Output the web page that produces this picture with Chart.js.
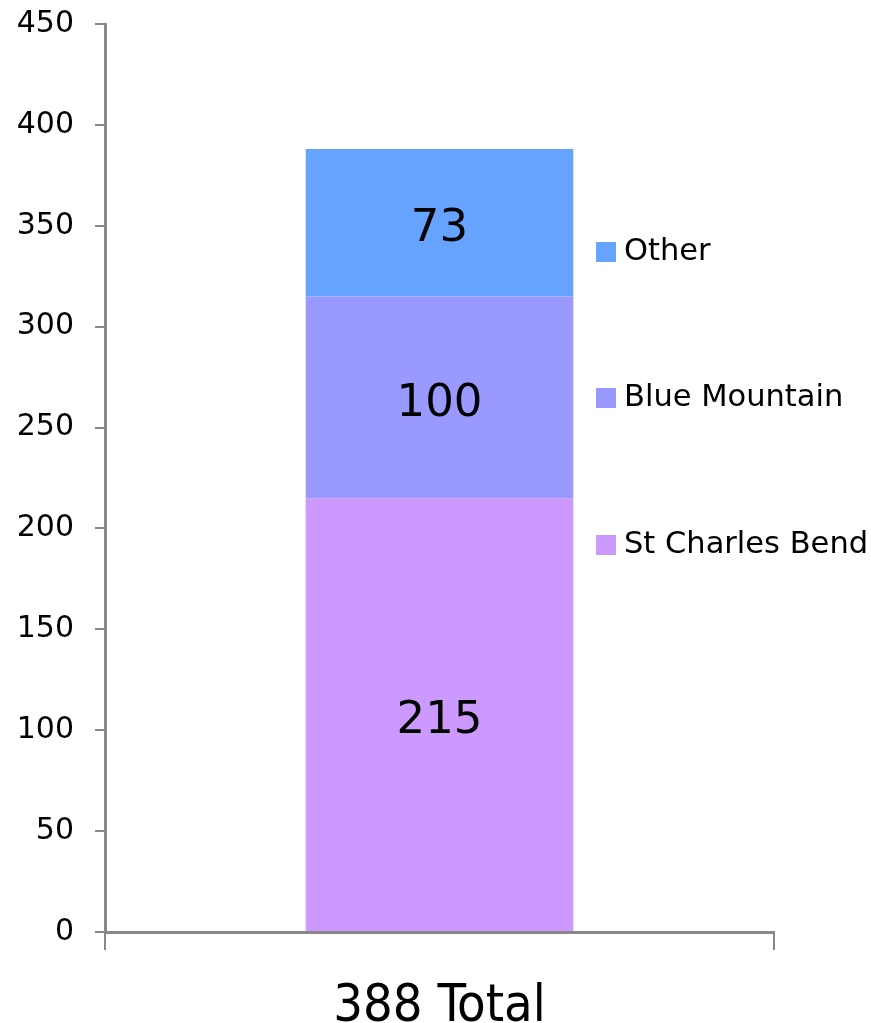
<!DOCTYPE html>
<html>
<head>
<meta charset="utf-8">
<script src="https://cdn.jsdelivr.net/npm/chart.js@4"></script>
<style>
  html, body { margin: 0; padding: 0; background: #fff; overflow: hidden; }
  #outer { width: 871px; height: 1023px; overflow: hidden; position: relative; }
  #wrap { width: 871px; height: 1038px; position: absolute; top: -15px; left: 0; }
</style>
</head>
<body>
<div id="outer"><div id="wrap"><canvas id="chart"></canvas></div></div>
<script>
// data
const categories = ['388 Total'];
const seriesNames = ['St Charles Bend', 'Blue Mountain', 'Other'];
const stCharlesBend = [215];
const blueMountain = [100];
const other = [73];
const colors = ['#cc99ff', '#9999ff', '#66a3ff'];
const yTicks = [0, 50, 100, 150, 200, 250, 300, 350, 400, 450];

const FONT = "'DejaVu Sans', Tahoma, sans-serif";

// value labels in the middle of each segment
const segmentLabels = {
  id: 'segmentLabels',
  afterDatasetsDraw(chart) {
    const ctx = chart.ctx;
    ctx.save();
    ctx.fillStyle = '#000';
    ctx.font = '45px ' + FONT;
    ctx.textAlign = 'center';
    ctx.textBaseline = 'middle';
    chart.data.datasets.forEach((ds, i) => {
      chart.getDatasetMeta(i).data.forEach((bar, j) => {
        const mid = (bar.y + bar.base) / 2;
        ctx.fillText(String(ds.data[j]), bar.x, mid + 7);
      });
    });
    ctx.restore();
  }
};

// legend on the right, top item = last series
const sideLegend = {
  id: 'sideLegend',
  afterDraw(chart) {
    const ctx = chart.ctx;
    const rows = [267, 413, 560];
    ctx.save();
    ctx.font = '30.5px ' + FONT;
    ctx.textBaseline = 'middle';
    ctx.textAlign = 'left';
    const order = chart.data.datasets.slice().reverse();
    order.forEach((ds, k) => {
      ctx.fillStyle = ds.backgroundColor;
      ctx.fillRect(596, rows[k] - 10, 20, 20);
      ctx.fillStyle = '#000';
      ctx.fillText(ds.label, 624, rows[k]);
    });
    ctx.restore();
  }
};

new Chart(document.getElementById('chart'), {
  type: 'bar',
  data: {
    labels: categories,
    datasets: [
      { label: seriesNames[0], data: stCharlesBend, backgroundColor: colors[0] },
      { label: seriesNames[1], data: blueMountain, backgroundColor: colors[1] },
      { label: seriesNames[2], data: other, backgroundColor: colors[2] }
    ]
  },
  options: {
    responsive: true,
    maintainAspectRatio: false,
    animation: false,
    layout: { padding: { top: 8, right: 97, left: 0, bottom: 0 } },
    datasets: { bar: { categoryPercentage: 0.4, barPercentage: 1.0 } },
    plugins: { legend: { display: false }, tooltip: { enabled: false } },
    scales: {
      x: {
        stacked: true,
        grid: { offset: true, drawOnChartArea: false, tickLength: 18, color: '#888', lineWidth: 2 },
        border: { color: '#888', width: 3 },
        ticks: { color: '#000', font: { size: 52, family: "'DejaVu Sans Condensed', 'Liberation Sans Narrow', sans-serif" }, padding: 26 },
        afterFit(scale) { scale.height = 91; }
      },
      y: {
        stacked: true,
        min: 0,
        max: 450,
        afterBuildTicks(scale) { scale.ticks = yTicks.map(v => ({ value: v })); },
        grid: { drawOnChartArea: false, tickLength: 10, color: '#888', lineWidth: 2 },
        border: { color: '#888', width: 3 },
        ticks: { color: '#000', font: { size: 30, family: FONT }, padding: 21 },
        afterFit(scale) { scale.width = 105; }
      }
    }
  },
  plugins: [segmentLabels, sideLegend]
});
</script>
</body>
</html>
